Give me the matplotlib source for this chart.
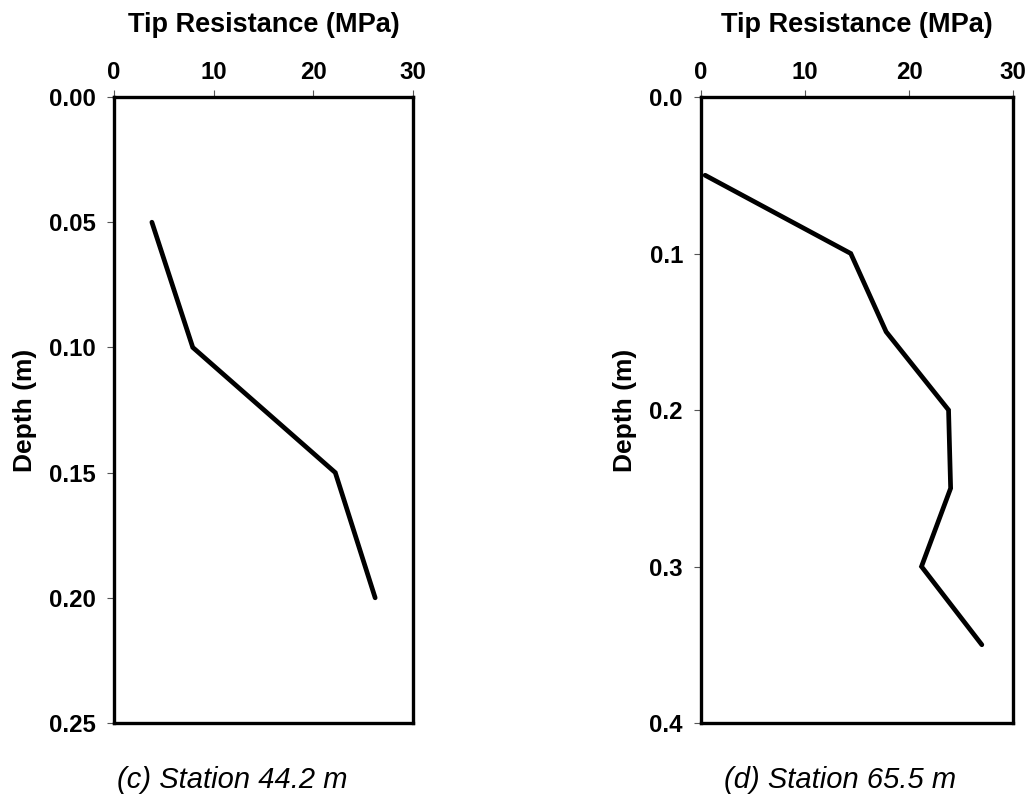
import matplotlib
matplotlib.use("Agg")
import matplotlib.pyplot as plt

plt.rcParams['font.family'] = ['Liberation Sans', 'DejaVu Sans']

# station 44.2 m
depth_c = [0.05, 0.10, 0.15, 0.20]
tip_c = [3.8, 7.9, 22.2, 26.2]

# station 65.5 m
depth_d = [0.05, 0.10, 0.15, 0.20, 0.25, 0.30, 0.35]
tip_d = [0.4, 14.4, 17.8, 23.8, 24.0, 21.2, 27.0]

xticks = [0, 10, 20, 30]
yticks_c = [0.00, 0.05, 0.10, 0.15, 0.20, 0.25]
yticks_d = [0.0, 0.1, 0.2, 0.3, 0.4]
captions = ["(c) Station 44.2 m", "(d) Station 65.5 m"]

fig = plt.figure(figsize=(10.29, 7.99), dpi=100)
ax1 = fig.add_axes([0.1108, 0.0951, 0.2906, 0.7835])
ax2 = fig.add_axes([0.6812, 0.0951, 0.3033, 0.7835])

panels = [
    (ax1, tip_c, depth_c, yticks_c, 0.25, '%.2f'),
    (ax2, tip_d, depth_d, yticks_d, 0.4, '%.1f'),
]

for ax, x, y, yt, ymax, fmt in panels:
    ax.plot(x, y, color='black', lw=3.4, solid_capstyle='round', solid_joinstyle='miter')
    ax.set_xlim(0, 30)
    ax.set_ylim(ymax, 0)
    ax.set_xticks(xticks)
    ax.set_yticks(yt)
    ax.set_yticklabels([fmt % v for v in yt])
    ax.xaxis.tick_top()
    ax.xaxis.set_label_position('top')
    ax.tick_params(axis='both', direction='out', length=5, width=0.8, color='#555555',
                   labelsize=17.3)
    ax.tick_params(axis='x', pad=4)
    ax.tick_params(axis='y', pad=8)
    for lab in ax.get_xticklabels() + ax.get_yticklabels():
        lab.set_fontweight('bold')
    for sp in ax.spines.values():
        sp.set_linewidth(2.4)
        sp.set_color('black')
    ax.set_xlabel('Tip Resistance (MPa)', fontsize=19.5, fontweight='bold', labelpad=21)
    ax.set_ylabel('Depth (m)', fontsize=19, fontweight='bold', labelpad=9)

fig.text(232 / 1029, 1 - 780 / 799, captions[0], fontsize=21, style='italic',
         ha='center', va='center')
fig.text(840 / 1029, 1 - 780 / 799, captions[1], fontsize=21, style='italic',
         ha='center', va='center')

fig.savefig('out.png', dpi=100)
